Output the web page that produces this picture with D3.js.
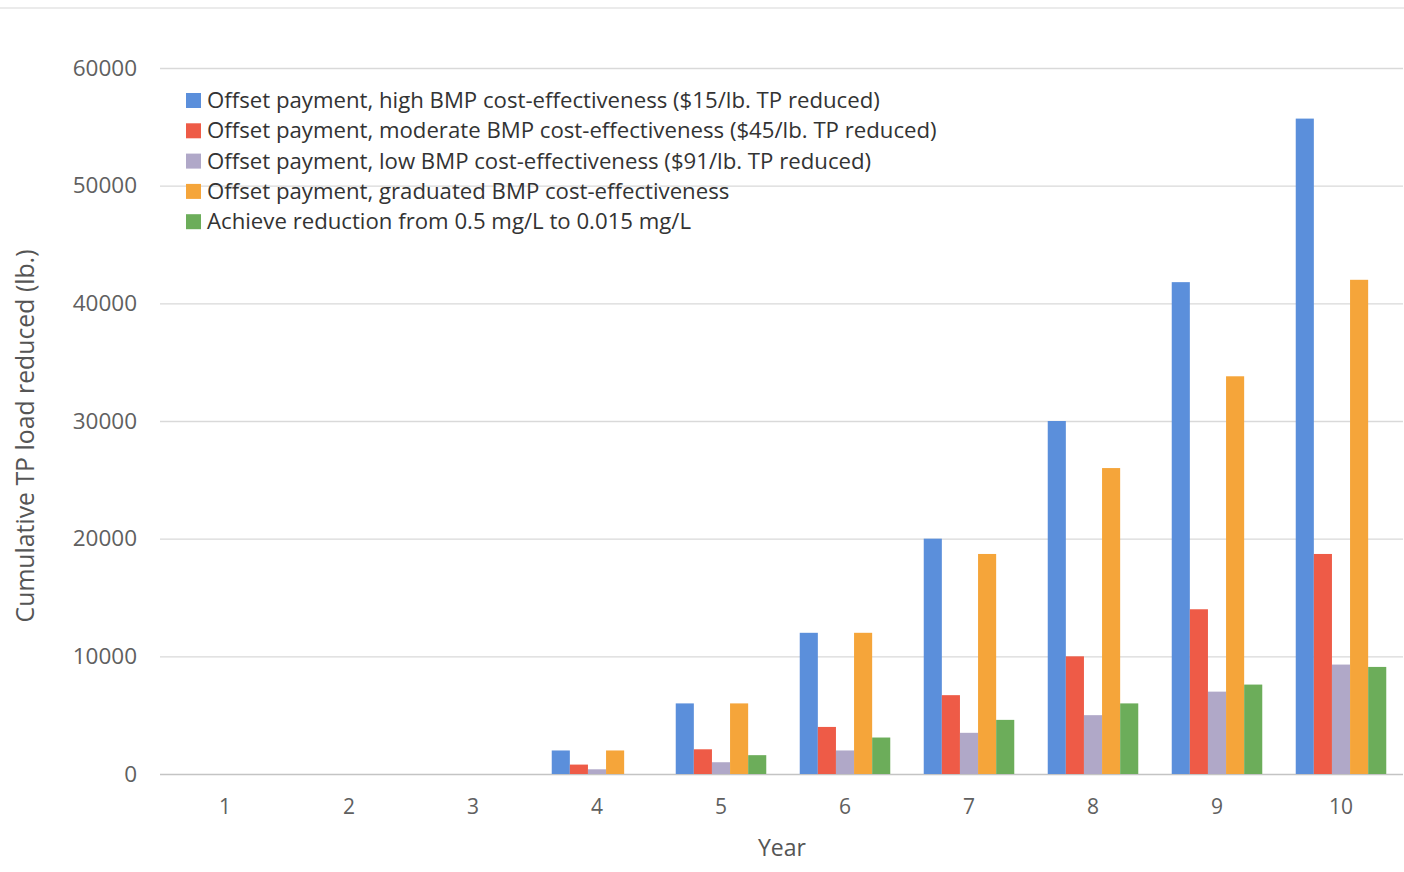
<!DOCTYPE html>
<html>
<head>
<meta charset="utf-8">
<script src="https://cdn.jsdelivr.net/npm/d3@7"></script>
<style>
  html, body { margin: 0; padding: 0; background: #fff; }
  svg { display: block; }
  text { font-family: "Open Sans", sans-serif; }
</style>
</head>
<body>
<svg id="chart" width="1404" height="872"></svg>
<script>
// Cumulative TP load reduced (lb.) by year, for each scenario
const years = [1, 2, 3, 4, 5, 6, 7, 8, 9, 10];
const seriesNames = [
  "Offset payment, high BMP cost-effectiveness ($15/lb. TP reduced)",
  "Offset payment, moderate BMP cost-effectiveness ($45/lb. TP reduced)",
  "Offset payment, low BMP cost-effectiveness ($91/lb. TP reduced)",
  "Offset payment, graduated BMP cost-effectiveness",
  "Achieve reduction from 0.5 mg/L to 0.015 mg/L"
];
const highValues      = [0, 0, 0, 2000, 6000, 12000, 20000, 30000, 41800, 55700];
const moderateValues  = [0, 0, 0, 800, 2100, 4000, 6700, 10000, 14000, 18700];
const lowValues       = [0, 0, 0, 400, 1000, 2000, 3500, 5000, 7000, 9300];
const graduatedValues = [0, 0, 0, 2000, 6000, 12000, 18700, 26000, 33800, 42000];
const achieveValues   = [0, 0, 0, 0, 1600, 3100, 4600, 6000, 7600, 9100];
const yTicks = [0, 10000, 20000, 30000, 40000, 50000, 60000];
const colors = ["#5b8fdb", "#ee5b47", "#b0a8c8", "#f5a53a", "#6cad5a"];

const allSeries = [highValues, moderateValues, lowValues, graduatedValues, achieveValues];
const svg = d3.select("#chart");

const plot = { left: 163, right: 1403, top: 68, bottom: 774 };

const x = d3.scaleBand()
  .domain(years)
  .range([plot.left, plot.right])
  .paddingInner(0.27)
  .paddingOuter(0.135);

const xInner = d3.scaleBand()
  .domain(d3.range(seriesNames.length))
  .range([0, x.bandwidth()]);

const y = d3.scaleLinear()
  .domain([0, 60000])
  .range([plot.bottom, plot.top]);

// faint rule along the top of the page
svg.append("line")
  .attr("x1", 0).attr("x2", 1404)
  .attr("y1", 8).attr("y2", 8)
  .attr("stroke", "#e4e4e4").attr("stroke-width", 1.5);

// horizontal gridlines and y tick labels
const yAxis = d3.axisLeft(y)
  .tickValues(yTicks)
  .tickSize(-(plot.right - plot.left + 3))
  .tickPadding(23)
  .tickFormat(d3.format("d"));

const gy = svg.append("g")
  .attr("transform", `translate(${plot.left - 3},0)`)
  .call(yAxis);
gy.select(".domain").remove();
gy.selectAll(".tick line")
  .attr("stroke", d => d === 0 ? "#c4c4c4" : "#d9d9d9")
  .attr("stroke-width", 1.3);
gy.selectAll(".tick text")
  .attr("fill", "#606060")
  .style("font-size", "22.5px");

// x axis category labels
const gx = svg.append("g")
  .attr("transform", `translate(0,${plot.bottom})`)
  .call(d3.axisBottom(x).tickSize(0).tickPadding(25));
gx.select(".domain").remove();
gx.selectAll(".tick text")
  .attr("fill", "#606060")
  .style("font-size", "21px");

// bars
const groups = svg.append("g").selectAll("g")
  .data(years)
  .join("g")
  .attr("transform", d => `translate(${x(d)},0)`);

groups.selectAll("rect")
  .data((yr, i) => allSeries.map((s, k) => ({ k, v: s[i] })))
  .join("rect")
  .attr("x", d => xInner(d.k))
  .attr("width", xInner.bandwidth())
  .attr("y", d => y(d.v))
  .attr("height", d => y(0) - y(d.v))
  .attr("fill", d => colors[d.k]);

// axis titles
svg.append("text")
  .attr("x", 782).attr("y", 856)
  .attr("text-anchor", "middle")
  .attr("fill", "#555")
  .style("font-size", "23px")
  .text("Year");

svg.append("text")
  .attr("transform", "translate(34,436) rotate(-90)")
  .attr("text-anchor", "middle")
  .attr("fill", "#555")
  .style("font-size", "24.8px")
  .text("Cumulative TP load reduced (lb.)");

// legend
const legend = svg.append("g").attr("transform", "translate(186,93)");
const rows = legend.selectAll("g")
  .data(seriesNames)
  .join("g")
  .attr("transform", (d, i) => `translate(0,${i * 30.3})`);
rows.append("rect")
  .attr("width", 15).attr("height", 15)
  .attr("fill", (d, i) => colors[i]);
rows.append("text")
  .attr("x", 21).attr("y", 15)
  .attr("fill", "#333")
  .style("font-size", "22.2px")
  .text(d => d);
</script>
</body>
</html>
